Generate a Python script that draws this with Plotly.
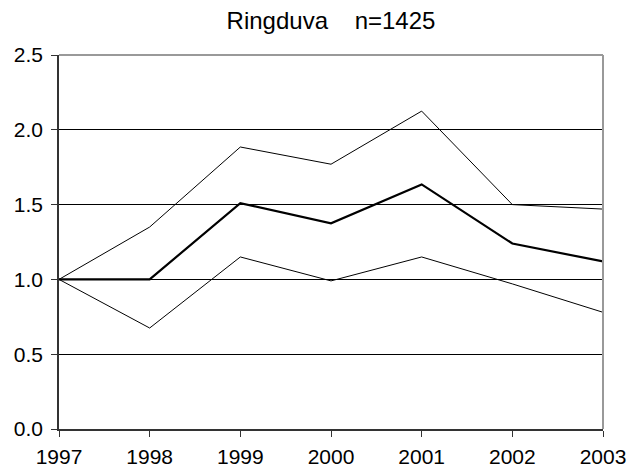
import plotly.graph_objects as go

years = [1997, 1998, 1999, 2000, 2001, 2002, 2003]
index_mid = [1.0, 1.0, 1.51, 1.375, 1.635, 1.24, 1.12]
upper_ci = [1.0, 1.35, 1.885, 1.77, 2.125, 1.50, 1.47]
lower_ci = [1.0, 0.675, 1.15, 0.99, 1.15, 0.97, 0.78]
y_ticks = [0.0, 0.5, 1.0, 1.5, 2.0, 2.5]
title_text = "Ringduva\u00a0\u00a0\u00a0\u00a0n=1425"

FONT = "Liberation Sans, Arial, sans-serif"

fig = go.Figure()
fig.add_trace(go.Scatter(x=years, y=upper_ci, mode="lines",
                         line=dict(color="black", width=1), showlegend=False))
fig.add_trace(go.Scatter(x=years, y=lower_ci, mode="lines",
                         line=dict(color="black", width=1), showlegend=False))
fig.add_trace(go.Scatter(x=years, y=index_mid, mode="lines",
                         line=dict(color="black", width=2.2), showlegend=False))

fig.update_layout(
    width=644, height=472,
    margin=dict(l=59, r=41, t=55, b=43, autoexpand=False),
    paper_bgcolor="white", plot_bgcolor="white",
    font=dict(family=FONT, size=21, color="black"),
    title=dict(text=title_text, x=0.5, xanchor="center", xref="paper",
               y=1 - 21 / 472, yanchor="middle", yref="container",
               font=dict(family=FONT, size=24, color="black")),
    xaxis=dict(range=[1997, 2003], tickvals=years, ticktext=[str(y) for y in years],
               showgrid=False, zeroline=False, showline=True, linecolor="#333333",
               linewidth=1.5, ticks="outside", ticklen=6, tickcolor="#333333",
               ticklabelstandoff=2, automargin=False, tickfont=dict(size=21)),
    yaxis=dict(range=[0, 2.5], tickvals=y_ticks, ticktext=[f"{v:.1f}" for v in y_ticks],
               showgrid=True, gridcolor="black", gridwidth=1, zeroline=False,
               showline=True, linecolor="#333333", linewidth=1.5,
               ticks="outside", ticklen=6, tickcolor="#333333",
               ticklabelstandoff=4, automargin=False, tickfont=dict(size=21)),
)
# top and right border of plot area (grey)
fig.add_shape(type="line", xref="paper", yref="paper", x0=0, x1=1, y0=1, y1=1,
              line=dict(color="#999999", width=2))
fig.add_shape(type="line", xref="paper", yref="paper", x0=1, x1=1, y0=0, y1=1,
              line=dict(color="#999999", width=2))

fig.write_html("out.html")
